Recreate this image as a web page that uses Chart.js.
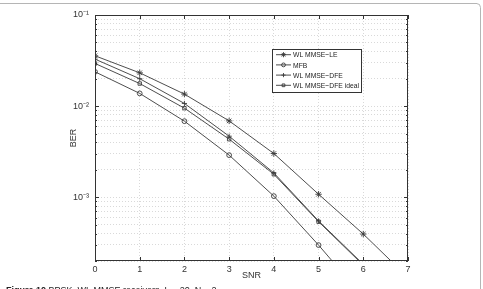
<!DOCTYPE html>
<html>
<head>
<meta charset="utf-8">
<script src="https://cdn.jsdelivr.net/npm/chart.js@4"></script>
<style>
  html, body { margin: 0; padding: 0; background: #fff; }
  #wrap { width: 483px; height: 289px; position: relative; }
</style>
</head>
<body>
<div id="wrap"><canvas id="myChart" width="483" height="289"></canvas></div>
<script>
// SNR 값과 곡선별 BER
const snr = [0, 1, 2, 3, 4, 5, 6, 7];
const berLE = [0.0357, 0.0232, 0.01355, 0.00689, 0.00302, 0.00108, 0.000395, 0.000132];
const berMFB = [0.0238, 0.0138, 0.00684, 0.0029, 0.00103, 0.000299, 0.00008, null];
const berDFE = [0.0328, 0.0200, 0.0107, 0.00468, 0.00185, 0.00055, 0.000184, null];
const berIdeal = [0.0294, 0.0177, 0.0095, 0.00434, 0.00179, 0.00054, 0.00018, null];
const seriesNames = ['WL MMSE\u2212LE', 'MFB', 'WL MMSE\u2212DFE', 'WL MMSE\u2212DFE ideal'];
const yTicks = [2e-4, 3e-4, 4e-4, 5e-4, 6e-4, 7e-4, 8e-4, 9e-4,
  1e-3, 2e-3, 3e-3, 4e-3, 5e-3, 6e-3, 7e-3, 8e-3, 9e-3,
  1e-2, 2e-2, 3e-2, 4e-2, 5e-2, 6e-2, 7e-2, 8e-2, 9e-2, 1e-1];
const yLabels = { '-1': '10\u207B\u00B9', '-2': '10\u207B\u00B2', '-3': '10\u207B\u00B3' };
const caption = 'Figure 10 BPSK, WL MMSE receivers, L = 20, N = 2.';

const lineColor = '#3a3a3a';
const font = '"Liberation Sans", Arial, sans-serif';

function makeSet(label, data, style, r) {
    return {
        label: label,
        data: data.map((v, i) => ({ x: snr[i], y: v })),
        borderColor: lineColor,
        borderWidth: 0.9,
        pointStyle: style,
        pointRadius: r,
        pointBorderColor: lineColor,
        pointBorderWidth: 0.9,
        pointBackgroundColor: 'rgba(0,0,0,0)',
        tension: 0,
        spanGaps: false
    };
}

// 축 제목, 범례, 테두리, 캡션을 직접 그리는 플러그인
const decorPlugin = {
    id: 'decor',
    afterDraw(chart) {
        const c = chart.ctx;
        const a = chart.chartArea;
        const ys = chart.scales.y;
        c.save();
        // 플롯 테두리
        c.strokeStyle = '#333';
        c.lineWidth = 1;
        c.strokeRect(a.left + 0.5, a.top + 0.5, a.right - a.left - 1, a.bottom - a.top - 1);
        // 안쪽 눈금
        c.beginPath();
        yTicks.forEach(v => {
            const y = Math.round(ys.getPixelForValue(v)) + 0.5;
            const len = Number.isInteger(Math.log10(v)) ? 4 : 2;
            c.moveTo(a.left, y); c.lineTo(a.left + len, y);
            c.moveTo(a.right, y); c.lineTo(a.right - len, y);
        });
        snr.forEach(v => {
            const x = Math.round(chart.scales.x.getPixelForValue(v)) + 0.5;
            c.moveTo(x, a.bottom); c.lineTo(x, a.bottom - 4);
            c.moveTo(x, a.top); c.lineTo(x, a.top + 4);
        });
        c.stroke();

        // 축 제목
        c.fillStyle = '#333';
        c.font = '9px ' + font;
        c.textAlign = 'center';
        c.textBaseline = 'middle';
        c.fillText('SNR', (a.left + a.right) / 2, 276);
        c.save();
        c.translate(74, (a.top + a.bottom) / 2);
        c.rotate(-Math.PI / 2);
        c.fillText('BER', 0, 0);
        c.restore();

        // 범례
        const bx = 272.5, by = 49.5, bw = 89, bh = 43;
        c.fillStyle = '#fff';
        c.fillRect(bx, by, bw, bh);
        c.strokeStyle = '#333';
        c.strokeRect(bx, by, bw, bh);
        c.font = '8px ' + font;
        const longest = Math.max(...chart.data.datasets.map(d => c.measureText(d.label).width));
        const squeeze = Math.min(1, 66 / longest);
        chart.data.datasets.forEach((ds, i) => {
            const y = 54.7 + 10.2 * i;
            c.strokeStyle = lineColor;
            c.lineWidth = 0.9;
            c.beginPath();
            c.moveTo(276, y); c.lineTo(291, y);
            c.stroke();
            c.fillStyle = 'rgba(0,0,0,0)';
            Chart.helpers.drawPoint(c, { pointStyle: ds.pointStyle, radius: ds.pointRadius * 0.8, rotation: 0, borderWidth: 0.9 }, 283.5, y);
            c.fillStyle = '#222';
            c.textAlign = 'left';
            c.font = '8px ' + font;
            c.fillText(ds.label, 293, y + 0.5, c.measureText(ds.label).width * squeeze);
        });

        // 바깥 프레임
        c.strokeStyle = '#b5b5b5';
        c.lineWidth = 1;
        c.beginPath();
        c.moveTo(-2, 3.5);
        c.lineTo(477, 3.5);
        c.arcTo(480.5, 3.5, 480.5, 7, 4);
        c.lineTo(480.5, 300);
        c.stroke();

        // 캡션
        c.fillStyle = '#222';
        c.textAlign = 'left';
        c.textBaseline = 'top';
        c.font = 'bold 9px ' + font;
        c.fillText('Figure 10', 6, 286);
        const w = c.measureText('Figure 10 ').width;
        c.font = '9px ' + font;
        c.fillText(caption.replace('Figure 10 ', ''), 6 + w, 286);
        c.restore();
    }
};

const ctx = document.getElementById('myChart').getContext('2d');
const myChart = new Chart(ctx, {
    type: 'line',
    data: {
        datasets: [
            makeSet(seriesNames[0], berLE, 'star', 3.2),
            makeSet(seriesNames[1], berMFB, 'circle', 2.4),
            makeSet(seriesNames[2], berDFE, 'cross', 2.6),
            makeSet(seriesNames[3], berIdeal, 'rect', 2.4)
        ]
    },
    options: {
        responsive: false,
        animation: false,
        devicePixelRatio: 1,
        layout: { padding: { left: 0, top: 15, right: 75, bottom: 0 } },
        plugins: { legend: { display: false }, tooltip: { enabled: false } },
        scales: {
            x: {
                type: 'linear',
                min: 0,
                max: 7,
                afterFit(s) { s.height = 28; },
                ticks: { stepSize: 1, padding: 3, color: '#333', font: { family: font, size: 9 } },
                grid: { color: '#c8c8c8', lineWidth: 0.7, drawTicks: false },
                border: { display: false, dash: [1, 2] }
            },
            y: {
                type: 'logarithmic',
                min: 2e-4,
                max: 0.1,
                afterFit(s) { s.width = 95; },
                afterBuildTicks(s) { s.ticks = yTicks.map(v => ({ value: v })); },
                ticks: {
                    autoSkip: false,
                    padding: 6,
                    color: '#333',
                    font: { family: font, size: 9 },
                    callback(v) {
                        const e = Math.log10(v);
                        return Math.abs(e - Math.round(e)) < 1e-9 ? (yLabels[Math.round(e)] || '') : '';
                    }
                },
                grid: { color: '#c8c8c8', lineWidth: 0.7, drawTicks: false },
                border: { display: false, dash: [1, 2] }
            }
        }
    },
    plugins: [decorPlugin]
});
</script>
</body>
</html>
